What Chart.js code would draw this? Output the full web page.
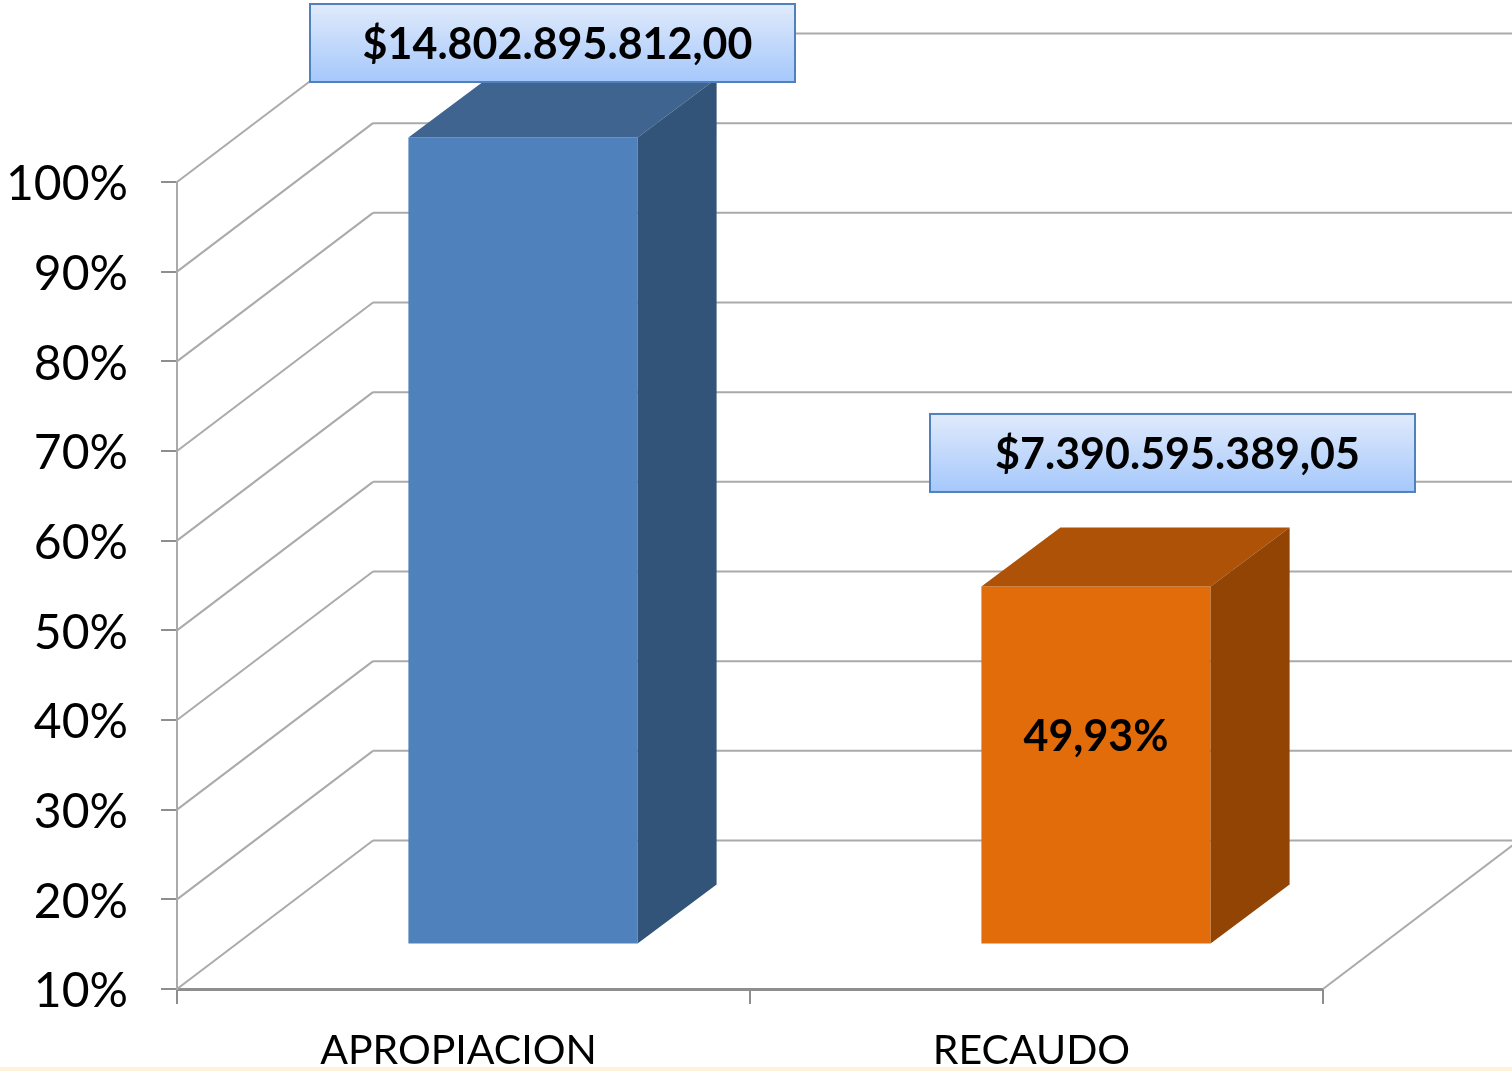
<!DOCTYPE html>
<html>
<head>
<meta charset="utf-8">
<style>
  html, body { margin: 0; padding: 0; background: #fff; overflow: hidden; }
  canvas { display: block; }
</style>
<script src="https://cdn.jsdelivr.net/npm/chart.js@4"></script>
</head>
<body>
<canvas id="chart" width="1512" height="1071"></canvas>
<script>
const categories = ['APROPIACION', 'RECAUDO']
const percentValues = [100, 49.93]
const amountLabels = ['$14.802.895.812,00', '$7.390.595.389,05']
const percentLabels = ['', '49,93%']

const frontColors = ['#4f81bd', '#e36c0a']
const topColors = ['#3f648f', '#ae5207']
const sideColors = ['#335479', '#924404']

const FONT = 'Lato, Carlito, sans-serif'
const GRID = '#aaaaaa'
const AXIS = '#8e8e8e'

// depth of the 3d box: whole wall and the bars themselves
const WALL = { dx: 196, dy: -148.5 }
const BAR_SHIFT = { dx: 59.5, dy: -44.5 }
const BAR_DEPTH = { dx: 79, dy: -59 }
const BOX_W = 485, BOX_H = 78
// callouts were dragged by hand in the original, offsets from each bar's centre / top
const boxOffsets = [{ x: 29.5, y: -133.5 }, { x: 76.5, y: -172.5 }]

function line(c, x1, y1, x2, y2) {
  c.beginPath(); c.moveTo(x1, y1); c.lineTo(x2, y2); c.stroke()
}

function poly(c, color, pts) {
  c.fillStyle = color
  c.beginPath()
  pts.forEach((p, i) => i ? c.lineTo(p[0], p[1]) : c.moveTo(p[0], p[1]))
  c.closePath()
  c.fill()
}

const box3d = {
  id: 'box3d',
  beforeDatasetsDraw(chart) {
    const c = chart.ctx, { left, right, bottom } = chart.chartArea
    const y = chart.scales.y
    c.save()
    c.strokeStyle = GRID
    c.lineWidth = 2
    y.ticks.forEach(t => {
      const py = y.getPixelForValue(t.value)
      line(c, left, py, left + WALL.dx, py + WALL.dy)
      line(c, left + WALL.dx, py + WALL.dy, chart.width, py + WALL.dy)
    })
    line(c, right, bottom, right + WALL.dx, bottom + WALL.dy)
    c.restore()
    // bars stand inside the box, so push them back along the depth axis
    c.save()
    c.translate(BAR_SHIFT.dx, BAR_SHIFT.dy)
  },
  afterDatasetsDraw(chart) {
    const c = chart.ctx
    const bars = chart.getDatasetMeta(0).data
    bars.forEach((b, i) => {
      const l = b.x - b.width / 2, r = b.x + b.width / 2, t = b.y, base = b.base
      const d = BAR_DEPTH
      poly(c, topColors[i], [[l, t], [r, t], [r + d.dx, t + d.dy], [l + d.dx, t + d.dy]])
      poly(c, sideColors[i], [[r, t], [r + d.dx, t + d.dy], [r + d.dx, base + d.dy], [r, base]])
    })
    // percent label inside the bar
    c.fillStyle = '#000'
    c.textAlign = 'center'
    c.textBaseline = 'middle'
    c.font = 'bold 43px ' + FONT
    bars.forEach((b, i) => {
      if (percentLabels[i]) c.fillText(percentLabels[i], b.x, b.y + 151)
    })
    // callouts with the amounts
    bars.forEach((b, i) => {
      const cx = b.x + boxOffsets[i].x, top = b.y + boxOffsets[i].y
      const g = c.createLinearGradient(0, top, 0, top + BOX_H)
      g.addColorStop(0, '#e0eafc')
      g.addColorStop(1, '#a5c8fb')
      c.fillStyle = g
      c.fillRect(cx - BOX_W / 2, top, BOX_W, BOX_H)
      c.strokeStyle = '#4f81bd'
      c.lineWidth = 2
      c.strokeRect(cx - BOX_W / 2, top, BOX_W, BOX_H)
      c.fillStyle = '#000'
      c.font = 'bold 43px ' + FONT
      c.fillText(amountLabels[i], cx + 5, top + BOX_H / 2 + 2)
    })
    c.restore()
  },
  afterDraw(chart) {
    // pale strip along the bottom edge of the slide
    const c = chart.ctx
    c.fillStyle = '#fdf3d8'
    c.fillRect(0, 1067, chart.width, 4)
  }
}

new Chart(document.getElementById('chart'), {
  type: 'bar',
  data: {
    labels: categories,
    datasets: [{
      data: percentValues,
      base: 10,
      backgroundColor: frontColors,
      barPercentage: 0.4,
      categoryPercentage: 1,
      clip: false
    }]
  },
  options: {
    responsive: false,
    animation: false,
    layout: { padding: { left: 0, right: 189, top: 182, bottom: 0 } },
    plugins: { legend: { display: false }, tooltip: { enabled: false } },
    scales: {
      x: {
        afterFit: s => { s.height = 82 },
        grid: { drawOnChartArea: false, color: AXIS, tickLength: 15, lineWidth: 2 },
        border: { color: AXIS, width: 3 },
        ticks: { color: '#000', font: { family: FONT, size: 41 }, padding: 22, labelOffset: -5, maxRotation: 0 }
      },
      y: {
        min: 10,
        max: 100,
        afterFit: s => { s.width = 177 },
        grid: { drawOnChartArea: false, color: AXIS, tickLength: 16, lineWidth: 2 },
        border: { color: GRID, width: 2 },
        ticks: {
          stepSize: 10,
          color: '#000',
          font: { family: FONT, size: 48 },
          padding: 33,
          labelOffset: 3,
          callback: v => v + '%'
        }
      }
    }
  },
  plugins: [box3d]
})
</script>
</body>
</html>
